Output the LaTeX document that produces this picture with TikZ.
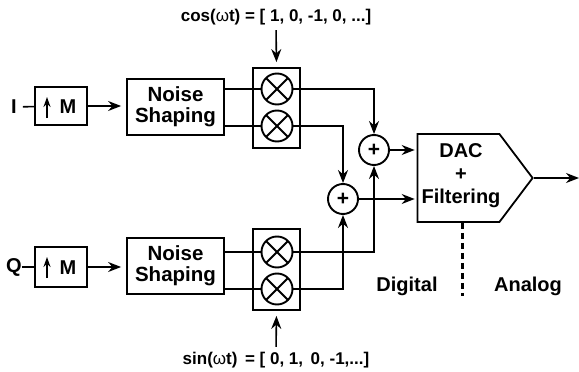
\documentclass[tikz,border=0pt]{standalone}
\usepackage{fontspec}
\setmainfont{Liberation Sans}
\usetikzlibrary{positioning, arrows.meta, shapes.symbols}
\tikzset{
  block/.style={
    draw,
    rectangle,
    line width=1.8pt,
    align=center,
    inner sep=0pt,
    font=\fontsize{20.5}{21}\selectfont\bfseries
  },
  mixer/.style={
    draw,
    circle,
    line width=1.9pt,
    minimum size=31pt,
    inner sep=0pt,
    fill=white,
    path picture={
      \draw[line width=1.9pt] (path picture bounding box.north west) -- (path picture bounding box.south east);
      \draw[line width=1.9pt] (path picture bounding box.north east) -- (path picture bounding box.south west);
    }
  },
  adder/.style={
    draw,
    circle,
    line width=1.9pt,
    minimum size=30pt,
    inner sep=0pt,
    fill=white,
    font=\fontsize{21}{21}\selectfont\bfseries
  },
  textlabel/.style={
    inner sep=0pt,
    align=center,
    font=\fontsize{20}{23}\selectfont\bfseries
  },
  carrier/.style={
    inner sep=0pt,
    font=\fontsize{17}{19}\selectfont\bfseries
  },
  wire/.style={
    line width=1.6pt
  },
  signalarrow/.style={
    line width=1.6pt,
    -{Stealth[length=13pt, width=10pt]}
  },
  uparrow/.style={
    line width=1.4pt,
    -{Stealth[length=10pt, width=7pt]}
  }
}

\begin{document}
\begin{tikzpicture}[x=1pt, y=-1pt]
        \useasboundingbox (0,0) rectangle (579,372);

        % I branch
        \node[textlabel] (inI) at (14,107) {I};
        \node[block, minimum width=52pt, minimum height=38pt] (upI) at (61,106) {};
        \node[textlabel] (mI) at (68,107) {M};
        \coordinate (tailI) at (47,118);
        \coordinate (headI) at (47,97);
        \node[block, minimum width=97pt, minimum height=56pt] (noiseI) at (175.5,107) {Noise\\Shaping};
        \node[block, minimum width=47pt, minimum height=80pt] (boxI) at (276.5,108) {};
        \node[mixer] (mixIa) at (277,89) {};
        \node[mixer] (mixIb) at (277,126) {};
        \node[carrier] (cosl) at (276,17) {cos({\mdseries ω}t) = [ 1, 0, -1, 0, ...]};

        % Q branch
        \node[textlabel] (inQ) at (14,267) {Q};
        \node[block, minimum width=52pt, minimum height=40pt] (upQ) at (61,267) {};
        \node[textlabel] (mQ) at (68,268) {M};
        \coordinate (tailQ) at (47,278);
        \coordinate (headQ) at (47,257);
        \node[block, minimum width=97pt, minimum height=56pt] (noiseQ) at (175.5,266) {Noise\\Shaping};
        \node[block, minimum width=47pt, minimum height=81pt] (boxQ) at (276.5,269.5) {};
        \node[mixer] (mixQa) at (277,252) {};
        \node[mixer] (mixQb) at (277,289) {};
        \node[carrier] (sinl) at (276,360) {sin({\mdseries ω}t)\, = [ 0, 1,\, 0, -1,...]};

        % adders and converter
        \node[adder] (sumI) at (374,150) {+};
        \node[adder] (sumQ) at (343,199) {+};
        \node[draw, signal, signal to=east, signal pointer angle=106, line width=1.8pt,
              minimum width=115pt, minimum height=88pt, inner sep=0pt] (dac) at (458.5,178) {};
        \node[textlabel] (dact) at (461,176) {DAC\\+\\Filtering};
        \node[textlabel] (digl) at (407,286) {Digital};
        \node[textlabel] (anal) at (528,286) {Analog};
        \coordinate (out) at (579,178);
        \coordinate (split) at (462,296);

        % inputs
        \draw[wire, shorten <=6pt] (inI) -- (upI);
        \draw[wire] (inQ) -- (upQ);
        \draw[uparrow] (tailI) -- (headI);
        \draw[uparrow] (tailQ) -- (headQ);
        \draw[signalarrow, shorten >=5pt] (upI) -- (upI -| noiseI.west);
        \draw[signalarrow, shorten >=5pt] (upQ) -- (upQ -| noiseQ.west);

        % to the mixers
        \draw[wire] (noiseI.east |- mixIa) -- (mixIa);
        \draw[wire] (noiseI.east |- mixIb) -- (mixIb);
        \draw[wire] (noiseQ.east |- mixQa) -- (mixQa);
        \draw[wire] (noiseQ.east |- mixQb) -- (mixQb);
        \draw[signalarrow, shorten <=5pt, shorten >=5pt] (cosl.south) -- (boxI.north);
        \draw[signalarrow, shorten <=5pt, shorten >=5pt] (sinl.north) -- (boxQ.south);

        % to the adders
        \draw[signalarrow] (mixIa.east) -| (sumI.north);
        \draw[signalarrow] (mixIb.east) -| (sumQ.north);
        \draw[signalarrow] (mixQa.east) -| (sumI.south);
        \draw[signalarrow] (mixQb.east) -| (sumQ.south);

        % converter
        \draw[signalarrow, shorten >=2pt] (sumI.east) -- (sumI.east -| dac.west);
        \draw[signalarrow, shorten >=2pt] (sumQ.east) -- (sumQ.east -| dac.west);
        \draw[signalarrow] (dac.east) -- (dac.east -| out);
        \draw[line width=3pt, dash pattern=on 6.5pt off 3.5pt] (dac.south -| split) -- (split);
      \end{tikzpicture}
\end{document}
